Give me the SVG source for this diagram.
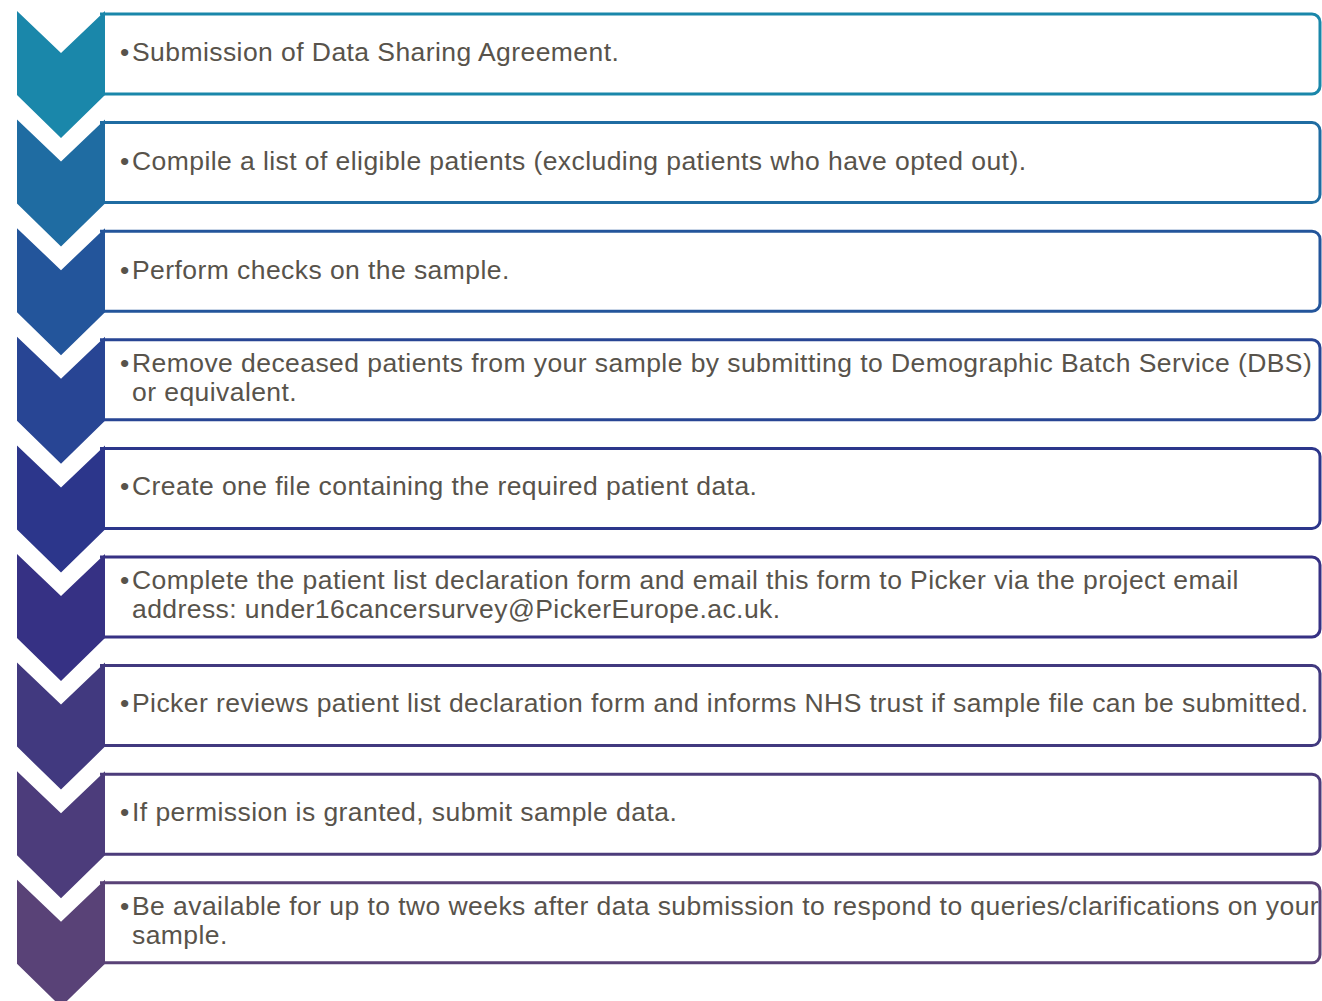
<svg xmlns="http://www.w3.org/2000/svg" width="1322" height="1001" viewBox="0 0 1322 1001">
<defs>
<style>
.chev{stroke:none}
.box{fill:#ffffff;stroke-width:3}
.t{font-family:"Liberation Sans",Arial,sans-serif;font-size:26.5px;letter-spacing:0.43px;fill:#58534b}
</style>
<polygon id="chevShape" points="17,0 61,42 105,0 105,84 61,127 17,84"/>
</defs>
<rect width="1322" height="1001" fill="#ffffff"/>
<g id="connectors"></g>
<g id="step1">
<path class="box" stroke="#1a87aa" d="M100,14 H1312 A8,8 0 0 1 1320,22 V86 A8,8 0 0 1 1312,94 H100"/>
<use href="#chevShape" y="11" fill="#1a87aa"/>
<text class="t" y="61"><tspan x="120">•</tspan><tspan x="132">Submission of Data Sharing Agreement.</tspan></text>
</g>
<g id="step2">
<path class="box" stroke="#1f6ca2" d="M100,122.6 H1312 A8,8 0 0 1 1320,130.6 V194.6 A8,8 0 0 1 1312,202.6 H100"/>
<use href="#chevShape" y="119.6" fill="#1f6ca2"/>
<text class="t" y="170"><tspan x="120">•</tspan><tspan x="132">Compile a list of eligible patients (excluding patients who have opted out).</tspan></text>
</g>
<g id="step3">
<path class="box" stroke="#23559b" d="M100,231.2 H1312 A8,8 0 0 1 1320,239.2 V303.2 A8,8 0 0 1 1312,311.2 H100"/>
<use href="#chevShape" y="228.2" fill="#23559b"/>
<text class="t" y="279"><tspan x="120">•</tspan><tspan x="132">Perform checks on the sample.</tspan></text>
</g>
<g id="step4">
<path class="box" stroke="#284594" d="M100,339.8 H1312 A8,8 0 0 1 1320,347.8 V411.8 A8,8 0 0 1 1312,419.8 H100"/>
<use href="#chevShape" y="336.8" fill="#284594"/>
<text class="t" y="372"><tspan x="120">•</tspan><tspan x="132">Remove deceased patients from your sample by submitting to Demographic Batch Service (DBS)</tspan></text>
<text class="t" x="132" y="401">or equivalent.</text>
</g>
<g id="step5">
<path class="box" stroke="#2c368b" d="M100,448.4 H1312 A8,8 0 0 1 1320,456.4 V520.4 A8,8 0 0 1 1312,528.4 H100"/>
<use href="#chevShape" y="445.4" fill="#2c368b"/>
<text class="t" y="495"><tspan x="120">•</tspan><tspan x="132">Create one file containing the required patient data.</tspan></text>
</g>
<g id="step6">
<path class="box" stroke="#363184" d="M100,557 H1312 A8,8 0 0 1 1320,565 V629 A8,8 0 0 1 1312,637 H100"/>
<use href="#chevShape" y="554" fill="#363184"/>
<text class="t" y="589"><tspan x="120">•</tspan><tspan x="132">Complete the patient list declaration form and email this form to Picker via the project email</tspan></text>
<text class="t" x="132" y="618">address: under16cancersurvey@PickerEurope.ac.uk.</text>
</g>
<g id="step7">
<path class="box" stroke="#41397f" d="M100,665.6 H1312 A8,8 0 0 1 1320,673.6 V737.6 A8,8 0 0 1 1312,745.6 H100"/>
<use href="#chevShape" y="662.6" fill="#41397f"/>
<text class="t" y="712"><tspan x="120">•</tspan><tspan x="132">Picker reviews patient list declaration form and informs NHS trust if sample file can be submitted.</tspan></text>
</g>
<g id="step8">
<path class="box" stroke="#4c3c7b" d="M100,774.2 H1312 A8,8 0 0 1 1320,782.2 V846.2 A8,8 0 0 1 1312,854.2 H100"/>
<use href="#chevShape" y="771.2" fill="#4c3c7b"/>
<text class="t" y="821"><tspan x="120">•</tspan><tspan x="132">If permission is granted, submit sample data.</tspan></text>
</g>
<g id="step9">
<path class="box" stroke="#594277" d="M100,882.8 H1312 A8,8 0 0 1 1320,890.8 V954.8 A8,8 0 0 1 1312,962.8 H100"/>
<use href="#chevShape" y="879.8" fill="#594277"/>
<text class="t" y="915"><tspan x="120">•</tspan><tspan x="132">Be available for up to two weeks after data submission to respond to queries/clarifications on your</tspan></text>
<text class="t" x="132" y="944">sample.</text>
</g>
</svg>
